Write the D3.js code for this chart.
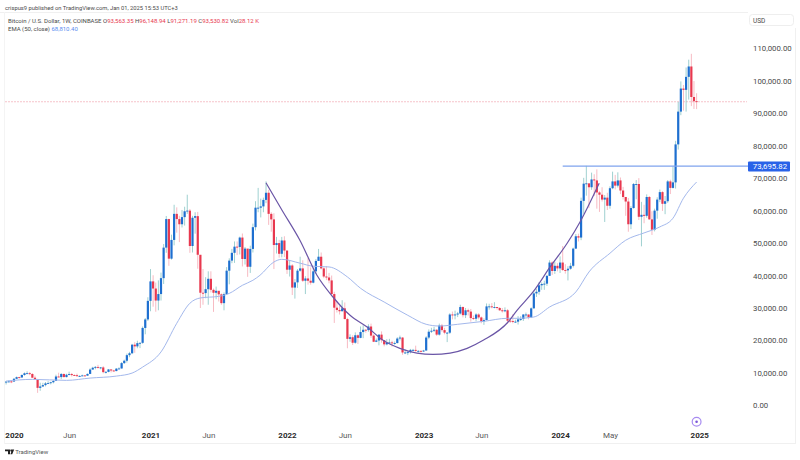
<!DOCTYPE html>
<html>
<head>
<meta charset="utf-8">
<script src="https://d3js.org/d3.v7.min.js"></script>
<style>
  html, body { margin: 0; padding: 0; background: #fff; }
  svg { display: block; font-family: Roboto, "Open Sans", sans-serif; }
</style>
</head>
<body>
<svg id="chart" width="800" height="460"></svg>
<script>
// Weekly candles, first bar is the week of 2019-12-16, last 2024-12-30
const firstOpen = 7100;
const closes = [
  7320, 7390, 7350,
  // 2020
  8190, 8700, 8600, 9370, 9900, 9920, 9670, 8530, 8040, 5400, 5830, 6250, 6780, 6860, 7130, 7540, 8900, 8720,
  9680, 8720, 9450, 9660, 9340, 9300, 9010, 9070, 9230, 9160, 9700, 11050, 11600, 11850, 11650, 11700, 10250,
  10330, 11080, 10750, 10580, 11320, 11370, 13030, 13760, 15480, 16060, 18700, 18180, 19170, 19270, 23860, 26480, 32200,
  // 2021
  38200, 36000, 32300, 34300, 39200, 48600, 57400, 45200, 50970, 59000, 57400, 55800, 58000, 59800, 60000, 49100,
  57800, 58300, 46400, 34700, 34600, 35800, 39000, 35600, 34700, 35300, 34200, 31500, 34300, 41500, 44600, 47000,
  48900, 48800, 51700, 45100, 48300, 42700, 48200, 54900, 60900, 60900, 61300, 63300, 65500, 59000, 57300, 49400,
  50000, 46700, 50800, 47700,
  // 2022
  41800, 43100, 36300, 37900, 41500, 42200, 38400, 39100, 38400, 37800, 41300, 44500, 45800, 42200, 39700, 39400,
  38500, 34300, 30100, 29400, 29000, 29900, 26600, 20500, 21000, 19300, 21600, 20800, 22600, 23300, 23200, 24300,
  21500, 19600, 20000, 21800, 20100, 18800, 19300, 19400, 19200, 19200, 20600, 20900, 16300, 16300, 16400, 17100,
  17100, 16800, 16800, 16600,
  // 2023
  16900, 20900, 22700, 23000, 23300, 21800, 24600, 23200, 22400, 22400, 28000, 27800, 28000, 28300, 30300, 27800,
  29300, 28900, 26900, 26700, 28000, 27100, 25900, 26300, 30500, 30500, 30300, 30300, 30000, 29300, 29000, 29300,
  26100, 26000, 25800, 25800, 26500, 26600, 28000, 28000, 27100, 29900, 34500, 35000, 37000, 37400, 37500, 39900,
  44000, 41400, 43000, 42200,
  // 2024
  44000, 41700, 41600, 42100, 43000, 48300, 52100, 51700, 63000, 68300, 68400, 67200, 69600, 69300, 65600, 64900,
  63400, 64000, 61500, 66900, 69000, 67700, 69300, 66200, 64200, 62800, 55800, 60800, 68200, 68200, 58100, 58700,
  58400, 64200, 57300, 54100, 60000, 63400, 65700, 62100, 62900, 69000, 67000, 68700, 80400, 90500, 97600, 97200,
  101200, 104400, 95000, 93700, 93530
];
const highs = [
  7520, 7690, 7620,
  8460, 8900, 8800, 9560, 10160, 10500, 10300, 9960, 9190, 8180, 7000, 6960, 7200, 7480, 7290, 7780, 9460, 10070,
  9950, 9840, 9740, 10380, 10000, 9590, 9790, 9290, 9480, 9350, 9830, 11420, 11900, 12120, 12490, 11820, 12090,
  10570, 11190, 11050, 10950, 11500, 11730, 13350, 14100, 15970, 16500, 18950, 19470, 19920, 19420, 24300, 26900, 33300,
  41990, 40100, 37850, 38500, 40900, 49700, 58350, 57500, 52600, 61800, 61000, 58400, 60200, 61200, 64900, 60500,
  58400, 59500, 59600, 46000, 42000, 39500, 41300, 41300, 36000, 36600, 35100, 34500, 34800, 42600, 45300, 48200,
  50500, 50500, 52000, 52950, 48800, 47300, 49200, 56000, 62900, 67000, 63700, 64000, 69000, 66400, 59500, 59200,
  51900, 51000, 51900, 52100,
  47600, 44500, 43500, 38900, 42000, 45800, 44700, 39800, 45400, 42500, 42400, 45100, 48200, 47100, 42500, 42900,
  40800, 40000, 35000, 32000, 30600, 32400, 31700, 27000, 21900, 21600, 22500, 21900, 24300, 24700, 23500, 25000,
  25200, 21900, 20600, 21900, 22800, 19700, 20400, 20500, 19900, 19700, 21000, 21500, 21000, 17200, 16800, 17400,
  17400, 18400, 17000, 16900,
  17100, 21300, 23400, 23900, 24200, 23500, 25200, 25100, 23900, 22600, 28400, 28900, 29200, 28800, 31000, 30500,
  30000, 29800, 29700, 27700, 28400, 28400, 27400, 26800, 31400, 31300, 31500, 31800, 30300, 30300, 30000, 30200,
  29700, 26800, 28100, 26400, 27500, 27500, 28100, 28600, 28000, 30200, 35200, 35900, 38000, 37900, 38400, 40200,
  44700, 44400, 44300, 43800,
  45900, 49100, 43500, 42900, 43900, 48600, 52800, 52900, 64000, 70100, 73800, 68000, 71700, 71200, 72700, 66000,
  67200, 64800, 65500, 67500, 72000, 71000, 71800, 70200, 67300, 63400, 63900, 61400, 68500, 69400, 70000, 62700,
  61800, 65000, 64500, 59800, 60600, 64100, 66500, 66000, 64500, 69400, 69500, 73600, 81500, 93500, 99800, 98700,
  104100, 106500, 108300, 99900, 96150
];
const lows = [
  6430, 7110, 6850,
  7320, 8100, 8270, 8540, 9120, 9720, 9300, 8450, 8000, 3860, 4500, 5650, 5870, 6770, 6460, 6780, 7620, 8600,
  8100, 8630, 8630, 9270, 8900, 9200, 8800, 8890, 9050, 9000, 9150, 9650, 10950, 11120, 11360, 11130, 9880,
  9830, 10200, 10140, 10370, 10520, 11190, 11340, 12750, 13200, 14850, 15800, 16200, 17600, 17650, 19000, 21900, 26000,
  29000, 30400, 28850, 29300, 32300, 37400, 47000, 43000, 44900, 49300, 53200, 50300, 54800, 55400, 59000, 47000,
  47100, 52900, 42100, 30000, 31000, 33000, 31000, 34800, 28800, 32700, 32000, 31000, 29300, 34000, 37300, 43800,
  43900, 46300, 46500, 42800, 43400, 39600, 40800, 47100, 53900, 59500, 57900, 59500, 62300, 55600, 53500, 42000,
  46800, 45500, 45600, 45700,
  40500, 39700, 34000, 32900, 36200, 41200, 38000, 34300, 37200, 37200, 37600, 40500, 44600, 41900, 39200, 38600,
  37600, 33700, 25400, 28600, 28000, 29000, 26500, 17600, 19600, 18600, 19000, 18900, 20700, 20700, 22400, 22700,
  20800, 19500, 19500, 18500, 19300, 18200, 18500, 19000, 18100, 18700, 19100, 20000, 15600, 15800, 15500, 16000,
  16700, 16500, 16300, 16300,
  16500, 16900, 20400, 22300, 22600, 21400, 21500, 22700, 21900, 19500, 22000, 26500, 26500, 27200, 28000, 27100,
  26900, 27700, 25800, 26300, 25900, 26500, 25300, 24800, 26200, 29500, 29900, 29900, 29500, 29100, 28600, 28700,
  25200, 25400, 25300, 25400, 24900, 26000, 26000, 27200, 26500, 26900, 29800, 33400, 34100, 35600, 35600, 36800,
  39900, 40200, 40500, 41300,
  40800, 41400, 40600, 38500, 41800, 42500, 48200, 50500, 50900, 59000, 64600, 60800, 66400, 64500, 60600, 59600,
  62800, 56500, 60200, 60600, 66600, 66500, 67100, 65100, 63400, 58400, 53500, 54300, 60600, 63500, 57100, 49000,
  56100, 57800, 57200, 52500, 53600, 57500, 62600, 59900, 58900, 62400, 65100, 66800, 66800, 78800, 89400, 90800,
  90500, 94200, 92200, 91300, 91270
];

// EMA(50) at the bars where its slope changes
const emaBars = [0, 10, 23, 32, 42, 48, 52, 59, 65, 70, 74, 81, 85, 90, 94, 96.7, 102, 105, 112, 117, 123, 130, 135, 144, 153, 160, 165, 172, 182, 191, 195, 201, 207, 217, 222, 230, 236, 243, 249, 254, 258, 263];
const emaValues = [7500, 8020, 7710, 8420, 9030, 9960, 11800, 16470, 25300, 31470, 33100, 33600, 34500, 37000, 38540, 40080, 44180, 45000, 43800, 42860, 42650, 39570, 36080, 31850, 27750, 24980, 24450, 24980, 25900, 26830, 26830, 27230, 30310, 34940, 41100, 46870, 50880, 53130, 54980, 57660, 63830, 68810];

// hand drawn cup annotation
const cupBars = [99, 105.1, 111.9, 118.4, 124.5, 131, 137.5, 143.6, 150, 156.5, 162.6, 169.1, 175.6, 181.7, 191.2, 194.6, 200.7, 207.2, 213.7, 218.6, 225.9];
const cupValues = [68550, 60130, 50880, 40090, 33390, 27750, 24140, 20040, 17580, 16130, 15730, 16130, 17580, 20040, 25690, 29290, 34940, 42650, 49950, 56520, 68450];

const yTicks = [0, 10000, 20000, 30000, 40000, 50000, 60000, 70000, 80000, 90000, 100000, 110000];
const timeTickBars = [3, 24, 55, 77, 107, 129, 159, 181, 211, 230, 264];
const timeTickLabels = ['2020', 'Jun', '2021', 'Jun', '2022', 'Jun', '2023', 'Jun', '2024', 'May', '2025'];
const lastPrice = 93530.82;
const resistance = 73695.82;
const resistanceFromBar = 212;
const eventBar = 263;

const UP = '#1e6fd0', DOWN = '#e8384f', UP_WICK = '#86c4c4', DOWN_WICK = '#f5a9b4';
const GREY = '#4a4a4a';

const svg = d3.select('#chart');
const x = d3.scaleLinear().domain([0, 263]).range([6.1, 696.6]);
const y = d3.scaleLinear().domain([0, 110000]).range([405.4, 48.3]);

// ── Frame ──
svg.append('line').attr('x1', 0).attr('x2', 748).attr('y1', 12.5).attr('y2', 12.5).attr('stroke', '#f0f0f0');
svg.append('line').attr('x1', 4).attr('x2', 796).attr('y1', 443.5).attr('y2', 443.5).attr('stroke', '#f0f0f0');
svg.append('line').attr('x1', 4.5).attr('x2', 4.5).attr('y1', 12).attr('y2', 444).attr('stroke', '#f4f4f4');
svg.append('line').attr('x1', 795.5).attr('x2', 795.5).attr('y1', 28).attr('y2', 444).attr('stroke', '#f0f0f0');
svg.append('rect').attr('x', 749.5).attr('y', 14.5).attr('width', 44).attr('height', 11).attr('rx', 3)
  .attr('fill', '#fff').attr('stroke', '#eeeeee');
svg.append('text').attr('x', 753).attr('y', 23).attr('font-size', 6.5).attr('fill', GREY).text('USD');

// ── Header and legend ──
svg.append('text').attr('x', 5).attr('y', 10).attr('font-size', 5.8).attr('fill', GREY)
  .text('crispus9 published on TradingView.com, Jan 01, 2025 15:53 UTC+3');

const legend = svg.append('text').attr('x', 8).attr('y', 22.5).attr('font-size', 6).attr('fill', GREY);
legend.append('tspan').text('Bitcoin / U.S. Dollar, 1W, COINBASE  O');
[['93,563.35', ' H'], ['96,148.94', ' L'], ['91,271.19', ' C'], ['93,530.82', ' Vol'], ['28.12 K', '']].forEach(([v, next]) => {
  legend.append('tspan').attr('fill', DOWN).text(v);
  legend.append('tspan').text(next);
});
const emaLegend = svg.append('text').attr('x', 8).attr('y', 30.5).attr('font-size', 6).attr('fill', GREY);
emaLegend.append('tspan').text('EMA (50, close)  ');
emaLegend.append('tspan').attr('fill', '#5b8def').text('68,810.40');

// ── Last price line ──
svg.append('line').attr('x1', 5).attr('x2', 747).attr('y1', y(lastPrice)).attr('y2', y(lastPrice))
  .attr('stroke', '#f4b4bc').attr('stroke-width', 0.8).attr('stroke-dasharray', '2,1');

// ── Candles ──
const bars = closes.map((c, i) => ({
  i, c, o: i ? closes[i - 1] : firstOpen, h: highs[i], l: lows[i]
}));
const candle = svg.append('g').selectAll('g').data(bars).enter().append('g');
candle.append('line')
  .attr('x1', d => x(d.i)).attr('x2', d => x(d.i))
  .attr('y1', d => y(d.h)).attr('y2', d => y(d.l))
  .attr('stroke', d => d.c >= d.o ? UP_WICK : DOWN_WICK).attr('stroke-width', 0.8);
candle.append('rect')
  .attr('x', d => x(d.i) - 1.1).attr('width', 2.2)
  .attr('y', d => y(Math.max(d.o, d.c)))
  .attr('height', d => Math.max(0.9, Math.abs(y(d.o) - y(d.c))))
  .attr('fill', d => d.c >= d.o ? UP : DOWN);

// ── EMA and cup ──
const curve = d3.line().x(d => x(d[0])).y(d => y(d[1])).curve(d3.curveMonotoneX);
svg.append('path').datum(emaBars.map((b, i) => [b, emaValues[i]])).attr('d', curve)
  .attr('fill', 'none').attr('stroke', '#a3b8ec').attr('stroke-width', 1);
svg.append('path').datum(cupBars.map((b, i) => [b, cupValues[i]])).attr('d', curve)
  .attr('fill', 'none').attr('stroke', '#6a55a6').attr('stroke-width', 1.2);

// ── Resistance line ──
svg.append('line').attr('x1', x(resistanceFromBar)).attr('x2', 749).attr('y1', y(resistance)).attr('y2', y(resistance))
  .attr('stroke', '#7fa3ee').attr('stroke-width', 1.2);

// ── Axes ──
const yAxis = svg.append('g').attr('transform', 'translate(748,0)')
  .call(d3.axisRight(y).tickValues(yTicks).tickSize(0).tickPadding(5).tickFormat(d3.format(',.2f')));
yAxis.select('.domain').remove();
yAxis.selectAll('text').attr('font-size', 7.8).attr('fill', GREY).attr('font-family', 'Roboto, sans-serif');

svg.append('rect').attr('x', 748).attr('y', y(resistance) - 4.6).attr('width', 42).attr('height', 10).attr('rx', 1)
  .attr('fill', '#2962e8');
svg.append('text').attr('x', 752.8).attr('y', y(resistance) + 3).attr('font-size', 7.8).attr('fill', '#fff')
  .text(d3.format(',.2f')(resistance));

const xAxis = svg.append('g').attr('transform', 'translate(0,429)')
  .call(d3.axisBottom(x).tickValues(timeTickBars).tickSize(0).tickPadding(3).tickFormat((d, i) => timeTickLabels[i]));
xAxis.select('.domain').remove();
xAxis.selectAll('text')
  .attr('font-size', 8).attr('font-family', 'Roboto, sans-serif')
  .attr('font-weight', (d, i) => timeTickLabels[i].length === 4 ? 700 : 400)
  .attr('fill', (d, i) => timeTickLabels[i].length === 4 ? '#2a2a2a' : '#5a5a5a');

// ── Event marker above 2025 ──
const marker = svg.append('g').attr('transform', `translate(${x(eventBar)},421.7)`);
marker.append('circle').attr('r', 4.4).attr('fill', '#fff').attr('stroke', '#a78bf0').attr('stroke-width', 1.2);
marker.append('circle').attr('r', 1.3).attr('fill', '#7a55d8');

// ── Watermark ──
svg.append('path').attr('d', 'M5 449.5h5v4.8h-2v-3h-3zM10.8 449.5h3.4l-2 4.8h-1.8l1-2.6a1.2 1.2 0 0 1-.6-2.2z')
  .attr('fill', '#222');
svg.append('text').attr('x', 15.2).attr('y', 454).attr('font-size', 6).attr('fill', '#555').text('TradingView');
</script>
</body>
</html>
